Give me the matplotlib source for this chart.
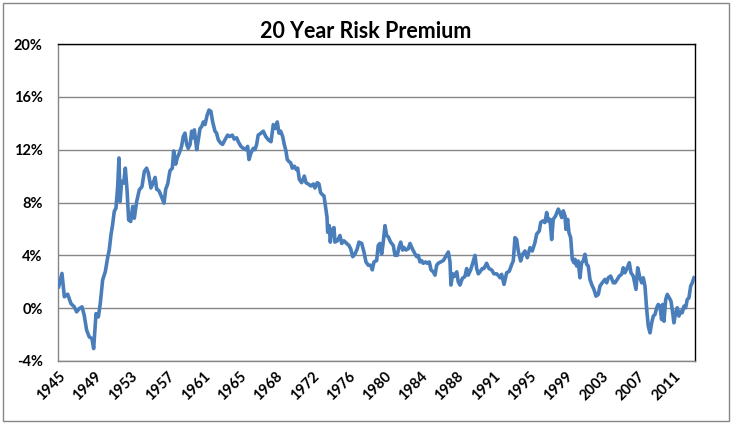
import matplotlib
matplotlib.use("Agg")
import matplotlib.pyplot as plt
from matplotlib.patches import Rectangle
import numpy as np

# ---- data ----
years = [
    1945.9, 1946.25, 1946.5, 1946.85, 1947.2, 1947.55, 1947.8, 1948.08, 1948.37, 1948.6,
    1948.86, 1949.14, 1949.42, 1949.6, 1949.85, 1950.1, 1950.3, 1950.55, 1950.83, 1951.1,
    1951.25, 1951.43, 1951.6, 1951.78, 1951.96, 1952.14, 1952.28, 1952.4, 1952.56, 1952.78,
    1952.95, 1953.13, 1953.3, 1953.52, 1953.73, 1953.9, 1954.15, 1954.43, 1954.71, 1954.96,
    1955.2,
    1955.38, 1955.66, 1955.9, 1956.1, 1956.27, 1956.5, 1956.8, 1957.04, 1957.22, 1957.43,
    1957.67, 1957.92, 1958.06, 1958.28, 1958.45, 1958.66, 1958.9, 1959.08, 1959.26, 1959.44,
    1959.6, 1959.8, 1959.97, 1960.14, 1960.25, 1960.5, 1960.67, 1960.85, 1961.03, 1961.2,
    1961.38, 1961.6, 1961.8, 1962.0, 1962.19, 1962.43, 1962.6, 1962.78, 1963.03, 1963.24,
    1963.49, 1963.77, 1964.0, 1964.26, 1964.47, 1964.72,
    1964.9, 1965.18, 1965.43, 1965.68, 1965.89, 1966.03, 1966.24, 1966.48, 1966.66, 1966.84,
    1967.0, 1967.3, 1967.54, 1967.8, 1968.07, 1968.36, 1968.6, 1968.85, 1969.02, 1969.2,
    1969.38, 1969.59, 1969.76, 1969.94, 1970.08, 1970.26, 1970.44, 1970.61, 1970.82, 1971.03,
    1971.18, 1971.35, 1971.6, 1971.88, 1972.06, 1972.3, 1972.58, 1972.83, 1973.0, 1973.25,
    1973.43, 1973.6, 1973.78, 1973.96, 1974.14, 1974.28, 1974.35, 1974.52, 1974.63,
    1974.77, 1975.02, 1975.12, 1975.37, 1975.65, 1975.83, 1976.07, 1976.36, 1976.6, 1976.78,
    1977.0, 1977.24, 1977.48, 1977.66, 1977.95, 1978.19, 1978.4, 1978.65, 1978.9, 1979.07,
    1979.25, 1979.53, 1979.7, 1979.88, 1980.06, 1980.23, 1980.41, 1980.59, 1980.76, 1981.01,
    1981.29, 1981.47, 1981.71, 1981.89, 1982.07, 1982.28, 1982.42, 1982.63, 1982.88, 1983.06,
    1983.3, 1983.59, 1983.76, 1983.93, 1984.11, 1984.29, 1984.46, 1984.71, 1984.88, 1985.1,
    1985.28, 1985.52, 1985.7, 1985.88, 1986.05, 1986.3, 1986.58, 1986.83, 1987.11, 1987.29,
    1987.39, 1987.57, 1987.74, 1988.0, 1988.16, 1988.34, 1988.59, 1988.87, 1989.05, 1989.22,
    1989.47, 1989.69, 1989.93, 1990.11, 1990.28, 1990.46, 1990.7, 1990.88, 1991.16, 1991.41,
    1991.69, 1991.94, 1992.22, 1992.5,
    1992.57, 1992.75, 1993.0, 1993.28, 1993.56, 1993.81, 1993.98, 1994.16, 1994.34, 1994.51,
    1994.76, 1994.97, 1995.22, 1995.46, 1995.75, 1995.99, 1996.27, 1996.45, 1996.73, 1996.88,
    1997.09, 1997.33, 1997.51, 1997.68, 1997.86, 1998.04, 1998.21, 1998.46, 1998.74, 1998.92,
    1999.1, 1999.27, 1999.45, 1999.55, 1999.73, 1999.87, 2000.05, 2000.22, 2000.4, 2000.5,
    2000.68, 2000.85, 2001.03, 2001.21, 2001.38, 2001.56, 2001.74, 2001.91, 2002.09, 2002.27,
    2002.51, 2002.73, 2002.97, 2003.15, 2003.39, 2003.68, 2003.86, 2004.03, 2004.28, 2004.56,
    2004.74, 2004.98, 2005.19, 2005.44, 2005.61, 2005.79, 2005.97, 2006.25, 2006.43, 2006.67,
    2006.96, 2007.14, 2007.38, 2007.56, 2007.73, 2007.91, 2008.09, 2008.26, 2008.44, 2008.62,
    2008.79, 2008.97, 2009.15, 2009.31, 2009.49, 2009.67, 2009.78, 2009.92, 2010.1, 2010.27,
    2010.48, 2010.66, 2010.84, 2010.97, 2011.15, 2011.32, 2011.5, 2011.68, 2011.85, 2012.03,
    2012.21, 2012.38, 2012.56, 2012.74, 2012.91, 2013.09,
]

premium = [
    1.62, 2.63, 0.86, 1.06, 0.35, 0.10, -0.28, -0.03, 0.10, -0.53,
    -1.67, -2.18, -2.30, -3.06, -0.41, -0.66, 0.35, 2.13, 2.76, 3.90,
    4.40, 5.54, 6.30, 7.32, 7.57, 9.20, 11.37, 8.08, 9.60, 9.47,
    10.60, 8.96, 6.68, 6.56, 7.70, 6.81, 8.08, 8.96, 9.20, 10.35,
    10.60,
    10.25, 9.10, 9.50, 9.90, 9.00, 8.90, 8.40, 7.95, 9.00, 9.40,
    10.40, 10.60, 11.90, 10.90, 11.40, 11.75, 12.25, 13.00, 13.25, 12.40,
    12.10, 12.40, 13.40, 12.90, 13.50, 12.00, 12.75, 13.60, 13.75, 14.10,
    13.90, 14.60, 15.00, 14.90, 14.10, 13.40, 13.25, 12.75, 12.50, 12.40,
    12.75, 13.10, 13.00, 13.10, 12.80, 12.90,
    12.60, 12.25, 12.10, 12.00, 12.25, 11.25, 11.75, 12.10, 12.00, 12.40,
    13.10, 13.25, 13.40, 13.00, 12.75, 12.60, 13.90, 13.60, 14.10, 13.25,
    13.40, 13.00, 12.40, 11.90, 11.25, 11.10, 11.00, 10.60, 10.75, 10.50,
    10.60, 9.75, 9.50, 10.00, 9.50, 9.40, 9.25, 9.40, 9.10, 9.50,
    9.40, 8.75, 8.60, 8.50, 7.60, 6.90, 5.75, 6.25, 5.00,
    5.90, 6.10, 5.00, 5.10, 5.50, 4.90, 5.10, 4.90, 4.75, 4.50,
    3.90, 4.10, 4.50, 5.00, 4.90, 4.25, 3.50, 3.25, 3.25, 2.90,
    3.50, 3.60, 4.75, 4.90, 4.10, 5.00, 6.25, 5.50, 5.40, 5.00,
    4.75, 4.00, 4.00, 4.60, 5.00, 4.40, 4.60, 4.40, 4.50, 4.90,
    4.50, 4.10, 3.90, 4.00, 3.50, 3.60, 3.40, 3.50, 3.40, 3.50,
    2.90, 2.75, 2.50, 3.25, 3.40, 3.50, 3.60, 3.90, 4.25, 3.50,
    1.75, 2.60, 2.40, 2.75, 2.00, 1.75, 2.25, 2.40, 3.00, 2.50,
    2.90, 3.40, 4.00, 3.00, 2.60, 2.75, 3.00, 3.00, 3.40, 3.00,
    2.90, 2.60, 2.60, 2.40,
    2.30, 2.56, 1.80, 2.68, 2.80, 3.30, 3.57, 5.34, 5.20, 4.33,
    3.57, 4.08, 4.33, 3.82, 4.58, 4.33, 4.96, 5.60, 5.85, 6.48,
    6.60, 6.48, 7.24, 6.60, 6.73, 5.20, 6.73, 6.99, 7.50, 7.24,
    6.86, 7.37, 6.99, 5.97, 6.73, 5.72, 5.34, 3.70, 3.44, 3.70,
    3.19, 3.57, 2.30, 3.44, 3.57, 4.08, 3.32, 3.19, 2.18, 1.80,
    1.42, 0.91, 1.04, 1.67, 1.92, 2.18, 1.92, 2.30, 2.43, 1.92,
    1.92, 2.18, 2.43, 2.56, 3.06, 2.68, 2.94, 3.44, 2.68, 2.43,
    1.42, 3.06, 2.30, 1.92, 2.30, 1.67, -0.10, -1.37, -1.87, -1.11,
    -0.60, -0.48, 0.03, 0.28, 0.15, -0.86, 0.28, -0.99, 0.66, 1.04,
    0.78, 0.53, -0.35, -1.11, -0.35, 0.03, -0.60, -0.23, -0.35, 0.15,
    0.03, 0.66, 0.78, 1.67, 1.92, 2.30,
]

x_labels = ["1945", "1949", "1953", "1957", "1961", "1965", "1968", "1972", "1976",
            "1980", "1984", "1988", "1991", "1995", "1999", "2003", "2007", "2011"]
y_ticks = [-4, 0, 4, 8, 12, 16, 20]

title = "20 Year Risk Premium"

# ---- figure ----
W, H = 735, 426
fig = plt.figure(figsize=(W / 100, H / 100), dpi=100)
font = "Lato"

ax = fig.add_axes([58 / W, 1 - 361 / H, (695 - 58) / W, (361 - 44) / H])

x_start = 1945.83
x_end = 2013.2
tick_pos = [x_start + k * 46 / 12 for k in range(len(x_labels))]

ax.plot(years, premium, color="#4A7EBB", lw=2.6, solid_joinstyle="round", zorder=3)

ax.set_xlim(x_start, x_end)
ax.set_ylim(-4, 20)
ax.set_yticks(y_ticks)
ax.set_yticklabels([f"{v}%" for v in y_ticks], fontfamily=font, fontweight="bold", fontsize=10.5)
ax.set_xticks(tick_pos)
ax.set_xticklabels(x_labels, rotation=45, ha="right", va="top", rotation_mode="anchor",
                   fontfamily=font, fontweight="bold", fontsize=10.5)
ax.tick_params(axis="both", length=0)
ax.tick_params(axis="y", pad=11)
ax.tick_params(axis="x", pad=6)

ax.grid(axis="y", color="#868686", lw=1)
ax.set_axisbelow(True)
for s in ["top", "right"]:
    ax.spines[s].set_color("black")
    ax.spines[s].set_linewidth(1)
for s in ["left", "bottom"]:
    ax.spines[s].set_color("#868686")
    ax.spines[s].set_linewidth(1)

fig.text(366 / W, 1 - 31 / H, title, ha="center", va="center",
         fontfamily=font, fontweight="bold", fontsize=15.5)

fig.patches.append(Rectangle((2.5 / W, 1 - 420.5 / H), 726 / W, 418 / H,
                             transform=fig.transFigure, fill=False,
                             edgecolor="#868686", lw=1))

fig.savefig("out.png", dpi=100)
